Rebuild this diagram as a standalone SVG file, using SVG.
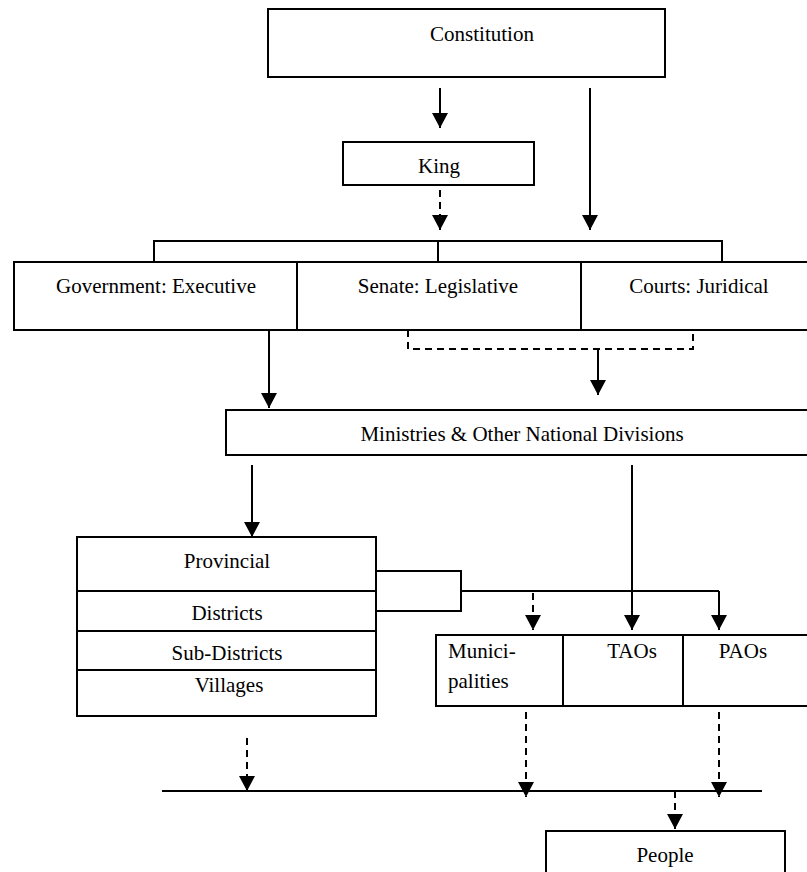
<svg xmlns="http://www.w3.org/2000/svg" width="807" height="872" viewBox="0 0 807 872">
  <style>
    .box { fill: #fff; stroke: #000; stroke-width: 2; }
    .ln { fill: none; stroke: #000; stroke-width: 2; }
    .dash { fill: none; stroke: #000; stroke-width: 2; stroke-dasharray: 7 5; }
    text { font-family: "Liberation Serif", "Times New Roman", serif; font-size: 21px; fill: #000; }
    .c { text-anchor: middle; }
  </style>
  <defs>
    <!-- filled arrowhead, tip at the end of the line -->
    <marker id="head" viewBox="0 0 15 16" refX="15" refY="8" markerWidth="15" markerHeight="16" markerUnits="userSpaceOnUse" orient="auto">
      <path d="M0,0 L15,8 L0,16 Z" fill="#000"/>
    </marker>
  </defs>
  <rect width="807" height="872" fill="#fff"/>

  <g id="constitution">
    <rect class="box" x="268" y="9" width="397" height="68"/>
    <text class="c" x="482" y="41">Constitution</text>
  </g>

  <g id="king">
    <rect class="box" x="343" y="142" width="191" height="43"/>
    <text class="c" x="439" y="173">King</text>
  </g>

  <g id="executive">
    <rect class="box" x="14" y="262" width="283" height="68"/>
    <text class="c" x="156" y="293">Government: Executive</text>
  </g>
  <g id="legislative">
    <rect class="box" x="297" y="262" width="284" height="68"/>
    <text class="c" x="438" y="293">Senate: Legislative</text>
  </g>
  <g id="juridical">
    <rect class="box" x="581" y="262" width="240" height="68"/>
    <text class="c" x="699" y="293">Courts: Juridical</text>
  </g>

  <g id="ministries">
    <rect class="box" x="226" y="410" width="595" height="45"/>
    <text class="c" x="522" y="441">Ministries &amp; Other National Divisions</text>
  </g>

  <g id="provincial">
    <rect class="box" x="77" y="537" width="299" height="54"/>
    <text class="c" x="227" y="568">Provincial</text>
  </g>
  <g id="districts">
    <rect class="box" x="77" y="591" width="299" height="40"/>
    <text class="c" x="227" y="620">Districts</text>
  </g>
  <g id="sub-districts">
    <rect class="box" x="77" y="631" width="299" height="39"/>
    <text class="c" x="227" y="660">Sub-Districts</text>
  </g>
  <g id="villages">
    <rect class="box" x="77" y="670" width="299" height="46"/>
    <text class="c" x="229" y="692">Villages</text>
  </g>

  <g id="municipalities">
    <rect class="box" x="436" y="635" width="127" height="71"/>
    <text x="448" y="658">Munici-</text>
    <text x="448" y="688">palities</text>
  </g>
  <g id="taos">
    <rect class="box" x="563" y="635" width="120" height="71"/>
    <text class="c" x="632" y="658">TAOs</text>
  </g>
  <g id="paos">
    <rect class="box" x="683" y="635" width="135" height="71"/>
    <text class="c" x="743" y="658">PAOs</text>
  </g>

  <g id="people">
    <rect class="box" x="546" y="831" width="239" height="50"/>
    <text class="c" x="665" y="862">People</text>
  </g>

  <g id="connectors">
    <!-- constitution to king and to the branches -->
    <line class="ln" x1="440" y1="88" x2="440" y2="128" marker-end="url(#head)"/>
    <line class="ln" x1="590" y1="88" x2="590" y2="230" marker-end="url(#head)"/>
    <line class="dash" x1="440" y1="190" x2="440" y2="230" marker-end="url(#head)"/>

    <!-- bracket over the three branches -->
    <path class="ln" d="M154,262 V241 H722 V262 M438,241 V262"/>

    <!-- executive down to ministries -->
    <line class="ln" x1="269" y1="330" x2="269" y2="408" marker-end="url(#head)"/>

    <!-- legislative and juridical dashed bracket -->
    <path class="dash" d="M408,330 V349 H693 V330"/>
    <line class="ln" x1="598" y1="349" x2="598" y2="395" marker-end="url(#head)"/>

    <!-- ministries down -->
    <line class="ln" x1="252" y1="465" x2="252" y2="537" marker-end="url(#head)"/>
    <line class="ln" x1="632" y1="465" x2="632" y2="630" marker-end="url(#head)"/>

    <!-- provincial and districts bracket to local bodies -->
    <path class="ln" d="M376,571 H461 V611 H376 M461,591 H719"/>
    <line class="ln" x1="719" y1="591" x2="719" y2="630" marker-end="url(#head)"/>
    <line class="dash" x1="533" y1="593" x2="533" y2="630" marker-end="url(#head)"/>

    <!-- down to the common line -->
    <line class="ln" x1="162" y1="791" x2="762" y2="791"/>
    <line class="dash" x1="247" y1="738" x2="247" y2="791" marker-end="url(#head)"/>
    <line class="dash" x1="526" y1="712" x2="526" y2="797" marker-end="url(#head)"/>
    <line class="dash" x1="719" y1="712" x2="719" y2="797" marker-end="url(#head)"/>

    <!-- to people -->
    <line class="dash" x1="675" y1="791" x2="675" y2="829" marker-end="url(#head)"/>
  </g>
</svg>
